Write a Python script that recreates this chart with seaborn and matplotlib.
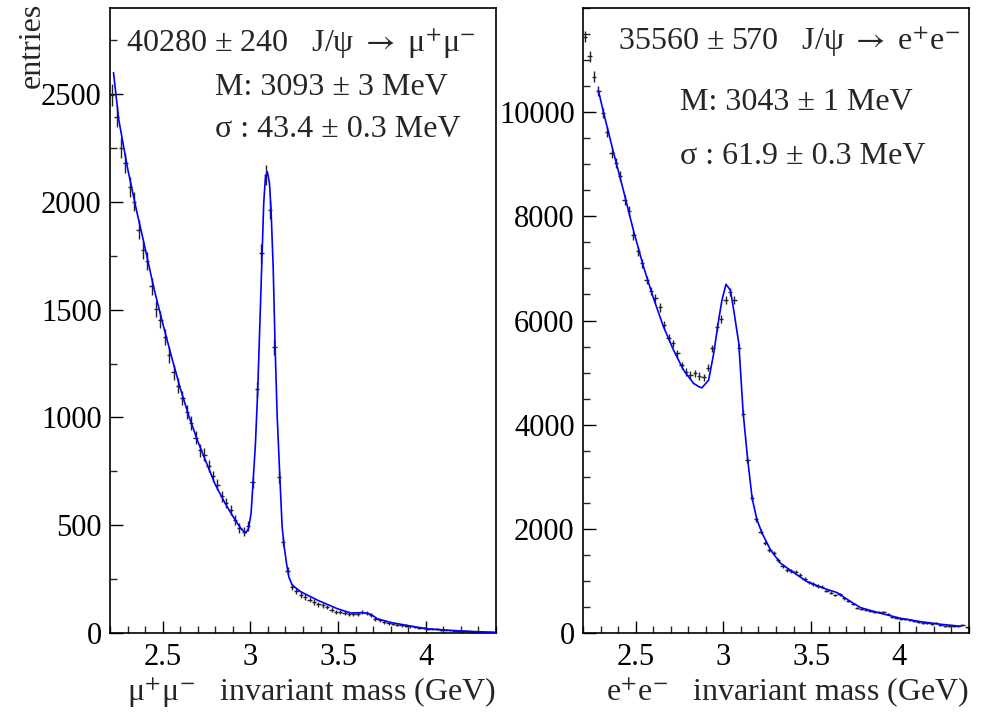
import numpy as np
import matplotlib
matplotlib.use("Agg")
import matplotlib.pyplot as plt
from matplotlib.ticker import FixedLocator, MultipleLocator
import seaborn as sns

# ---------------- data ----------------
bin_lo = 2.2
bin_width = 0.025

# J/psi -> mu+ mu- : histogram contents (88 bins, 2.2 - 4.4 GeV)
mumu_counts = [2497, 2396, 2250, 2180, 2069, 2002, 1871, 1778, 1724, 1608,
               1503, 1454, 1372, 1291, 1209, 1148, 1090, 1024, 974, 905,
               848, 828, 774, 727, 689, 635, 604, 570, 523, 488,
               470, 497, 699, 1130, 1761, 2124, 1965, 1328, 725, 424,
               287, 214, 196, 178, 167, 155, 144, 133, 128, 121,
               108, 96, 97, 93, 87, 90, 90, 99, 93, 82,
               65, 59, 51, 46, 42, 39, 36, 34, 31, 28,
               25, 23, 20, 19, 19, 15, 14, 12, 11, 11,
               9, 8, 6, 6, 5, 5, 3, 3]

# fit curve
mumu_fit_x = [2.22, 2.25, 2.30, 2.35, 2.40, 2.45, 2.50, 2.55, 2.60, 2.65,
              2.70, 2.75, 2.80, 2.85, 2.90, 2.95, 2.975, 2.99, 3.004, 3.015,
              3.029, 3.042, 3.053, 3.067, 3.076, 3.086, 3.097, 3.109, 3.118, 3.130,
              3.141, 3.153, 3.168, 3.181, 3.193, 3.206, 3.219, 3.238, 3.286, 3.381,
              3.495, 3.571, 3.648, 3.686, 3.724, 3.80, 3.914, 4.004, 4.143, 4.295, 4.40]
mumu_fit_y = [2600, 2381, 2157, 1965, 1786, 1600, 1438, 1284, 1137, 1005,
              890, 789, 689, 611, 542, 480, 465, 486, 555, 694,
              880, 1127, 1405, 1761, 1993, 2117, 2140, 2086, 1962, 1699,
              1328, 1003, 725, 493, 400, 323, 261, 223, 192, 153,
              113, 93, 94, 87, 66, 49, 32, 20, 12, 6, 3]

# J/psi -> e+ e- : histogram contents
ee_counts = [11445, 11075, 10678, 10403, 9987, 9622, 9207, 9027, 8772, 8311,
             8100, 7639, 7332, 7096, 6775, 6570, 6424, 6251, 5912, 5656,
             5560, 5368, 5140, 5010, 4952, 4985, 4933, 4910, 5095, 5464,
             5879, 6021, 6400, 6551, 6400, 5470, 4210, 3315, 2590, 2182,
             1945, 1728, 1593, 1530, 1395, 1290, 1209, 1193, 1177, 1113,
             1036, 973, 941, 902, 889, 812, 774, 729, 742, 666,
             614, 557, 474, 455, 441, 422, 409, 397, 409, 365,
             301, 288, 275, 263, 250, 236, 205, 192, 192, 167,
             192, 154, 134, 134, 128, 128, 154, 109]

ee_fit_x = [2.2875, 2.316, 2.373, 2.430, 2.487, 2.545, 2.602, 2.659, 2.716, 2.773,
            2.830, 2.861, 2.878, 2.916, 2.945, 2.973, 2.992, 3.015, 3.040, 3.059,
            3.088, 3.113, 3.139, 3.164, 3.192, 3.221, 3.269, 3.326, 3.421, 3.478,
            3.573, 3.649, 3.726, 3.783, 3.897, 4.011, 4.126, 4.240, 4.354]
ee_fit_y = [10422, 10006, 9238, 8503, 7735, 7031, 6424, 5879, 5432, 5048,
            4793, 4728, 4708, 4856, 5368, 6008, 6392, 6695, 6583, 6200,
            5560, 4217, 3321, 2585, 2169, 1914, 1593, 1338, 1113, 985,
            858, 774, 601, 486, 378, 282, 217, 167, 129]

xtick_vals = [2.5, 3.0, 3.5, 4.0]
xtick_labels = ["2.5", "3", "3.5", "4"]
mumu_ytick_vals = [0, 500, 1000, 1500, 2000, 2500]
mumu_ytick_labels = ["0", "500", "1000", "1500", "2000", "2500"]
ee_ytick_vals = [0, 2000, 4000, 6000, 8000, 10000]
ee_ytick_labels = ["0", "2000", "4000", "6000", "8000", "10000"]

mumu_texts = ["40280 \u00b1 240   J/\u03c8 $\\rightarrow$ \u03bc$^{+}$\u03bc$^{-}$",
              "M: 3093 \u00b1 3 MeV",
              "\u03c3 : 43.4 \u00b1 0.3 MeV"]
ee_texts = ["35560 \u00b1 570   J/\u03c8 $\\rightarrow$ e$^{+}$e$^{-}$",
            "M: 3043 \u00b1 1 MeV",
            "\u03c3 : 61.9 \u00b1 0.3 MeV"]
mumu_xlabel = "\u03bc$^{+}$\u03bc$^{-}$   invariant mass (GeV)"
ee_xlabel = "e$^{+}$e$^{-}$   invariant mass (GeV)"
ylabel = "entries"

# ---------------- style ----------------
sns.set_style("ticks")
plt.rcParams["font.family"] = ["Liberation Serif", "DejaVu Serif"]
plt.rcParams["mathtext.fontset"] = "stix"
plt.rcParams["xtick.direction"] = "in"
plt.rcParams["ytick.direction"] = "in"

W, H = 987, 714
fig = plt.figure(figsize=(W / 100, H / 100), dpi=100)
fig.patch.set_facecolor("white")

ax1 = fig.add_axes([110 / W, 1 - 633 / H, 386 / W, 625 / H])
ax2 = fig.add_axes([583 / W, 1 - 633 / H, 386 / W, 625 / H])

TICK_FS = 22
TEXT_FS = 23
LABEL_FS = 23


def draw_panel(ax, counts, fit_x, fit_y, ymax, yvals, ylabels, yminor, xlabel):
    counts = np.asarray(counts, dtype=float)
    centers = bin_lo + bin_width * (np.arange(len(counts)) + 0.5)
    ax.errorbar(centers, counts, yerr=np.sqrt(counts), xerr=bin_width / 2,
                fmt="none", ecolor="#222222", elinewidth=1.0, capsize=0, zorder=2)
    sns.lineplot(x=fit_x, y=fit_y, ax=ax, color="#0000ff", linewidth=1.2,
                 estimator=None, sort=False, zorder=3)
    ax.set_xlim(2.2, 4.4)
    ax.set_ylim(0, ymax)
    ax.xaxis.set_major_locator(FixedLocator(xtick_vals))
    ax.set_xticklabels(xtick_labels)
    ax.xaxis.set_minor_locator(MultipleLocator(0.1))
    ax.yaxis.set_major_locator(FixedLocator(yvals))
    ax.set_yticklabels(ylabels)
    ax.yaxis.set_minor_locator(MultipleLocator(yminor))
    ax.tick_params(axis="both", which="major", length=9, width=1.0,
                   labelsize=TICK_FS, colors="black")
    ax.tick_params(axis="x", which="major", pad=7)
    ax.tick_params(axis="y", which="major", pad=6)
    ax.tick_params(axis="both", which="minor", length=5, width=1.0)
    for sp in ax.spines.values():
        sp.set_visible(True)
        sp.set_color("black")
        sp.set_linewidth(1.2)
    ax.set_xlabel(xlabel, fontsize=LABEL_FS, loc="right")
    ax.xaxis.set_label_coords(1.0, -0.068)
    ax.set_ylabel("")
    ax.set_facecolor("white")


draw_panel(ax1, mumu_counts, mumu_fit_x, mumu_fit_y, 2900,
           mumu_ytick_vals, mumu_ytick_labels, 250, mumu_xlabel)
draw_panel(ax2, ee_counts, ee_fit_x, ee_fit_y, 12000,
           ee_ytick_vals, ee_ytick_labels, 500, ee_xlabel)

ax1.set_ylabel(ylabel, fontsize=23, loc="top")
ax1.yaxis.set_label_coords(-0.165, 1.008)


def ftext(xpx, base_px, s):
    fig.text(xpx / W, 1 - base_px / H, s, fontsize=TEXT_FS, ha="left", va="baseline")


ftext(126, 52, mumu_texts[0])
ftext(215, 95, mumu_texts[1])
ftext(215, 137, mumu_texts[2])
ftext(618, 50, ee_texts[0])
ftext(680, 110, ee_texts[1])
ftext(680, 164, ee_texts[2])

fig.savefig("out.png", dpi=100, facecolor="white")
